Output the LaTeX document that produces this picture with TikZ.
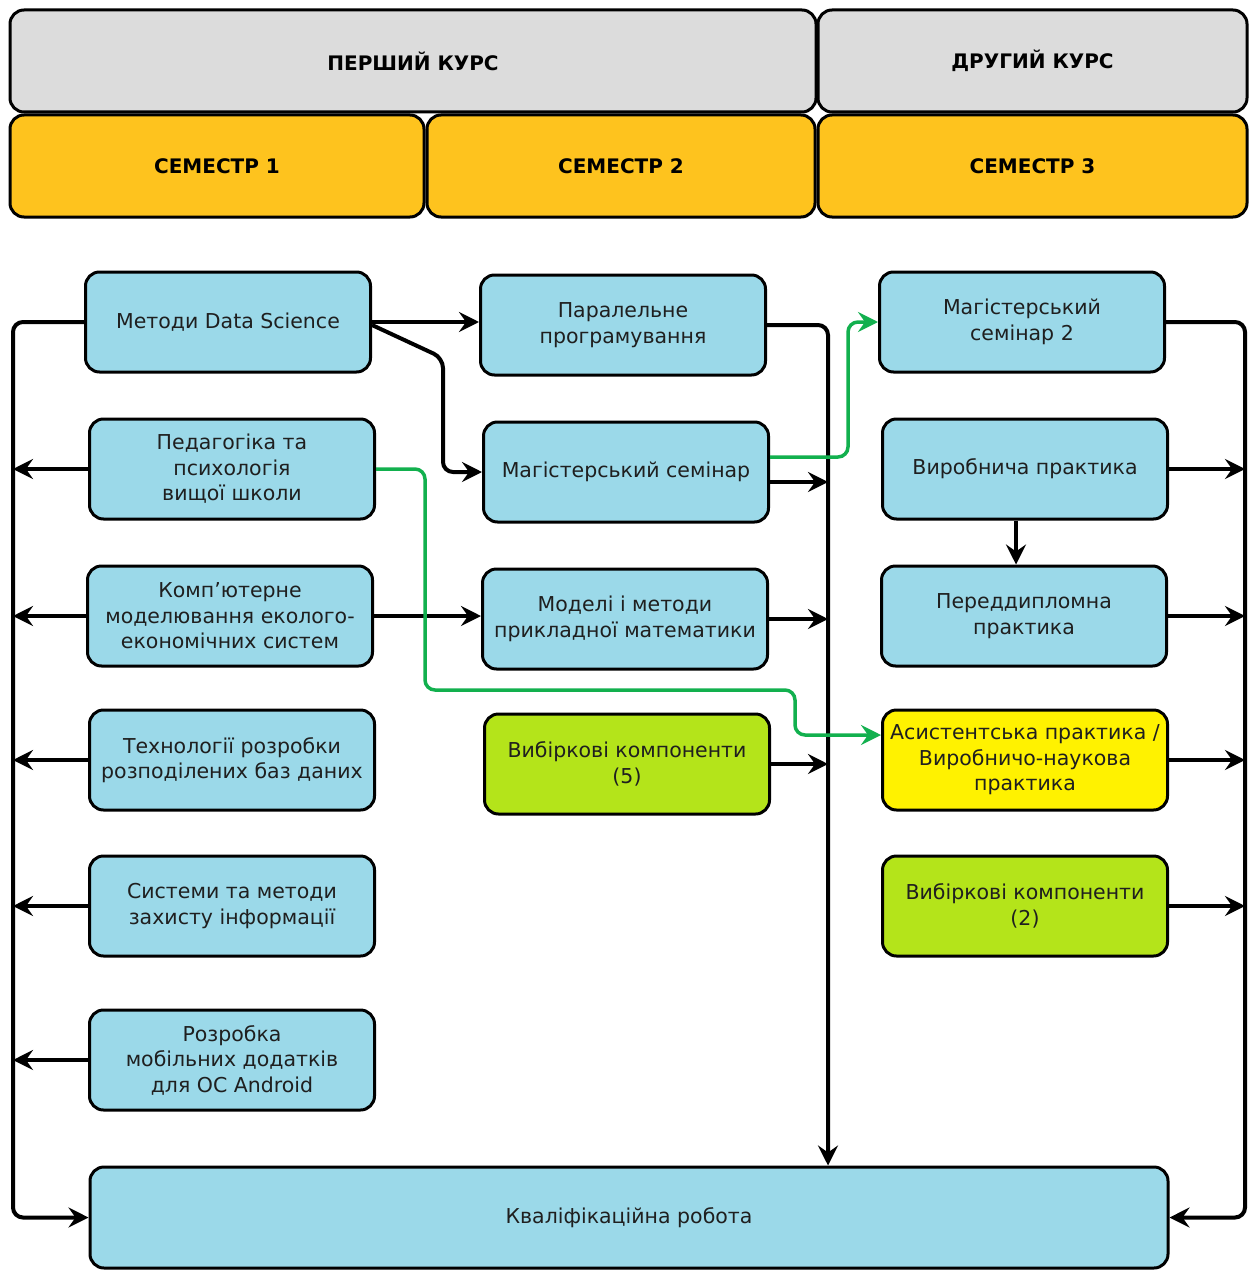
\documentclass[tikz,border=0pt]{standalone}
\usepackage{fontspec}
\setmainfont{DejaVu Sans}
\usetikzlibrary{arrows.meta}
\definecolor{cbox}{HTML}{9BD9E9}
\definecolor{chead}{HTML}{DCDCDC}
\definecolor{csem}{HTML}{FEC31E}
\definecolor{clime}{HTML}{B4E41A}
\definecolor{cyel}{HTML}{FFF200}
\definecolor{cgreen}{HTML}{12B04E}

\begin{document}
\begin{tikzpicture}[x=1pt,y=-1pt,
  box/.style={draw,line width=3pt,rounded corners=14pt,fill=cbox,
    minimum width=285pt,minimum height=100pt,align=center,inner sep=4pt,
    font=\fontsize{20.5}{25.5}\selectfont,text=black!88},
  head/.style={draw,line width=3pt,rounded corners=14pt,minimum height=102pt,
    font=\bfseries\fontsize{20}{24}\selectfont},
  conn/.style={line width=4pt,rounded corners=10pt,
    -{Stealth[length=20pt,width=20pt,inset=7pt]}},
  link/.style={conn,line width=3.5pt,color=cgreen}]
  \useasboundingbox (0,0) rectangle (1249,1271);

  % header
  \node[head,fill=chead,minimum width=806pt] (kurs1) at (413,61) {ПЕРШИЙ КУРС};
  \node[head,fill=chead,minimum width=429pt] (kurs2) at (1032.5,61) {ДРУГИЙ КУРС};
  \node[head,fill=csem,minimum width=414pt] (sem1) at (217,166) {СЕМЕСТР 1};
  \node[head,fill=csem,minimum width=388pt] (sem2) at (621,166) {СЕМЕСТР 2};
  \node[head,fill=csem,minimum width=429pt] (sem3) at (1032.5,166) {СЕМЕСТР 3};

  % semester 1
  \node[box] (ds) at (228,322) {Методи Data Science};
  \node[box] (ped) at (232,469) {Педагогіка та\\психологія\\вищої школи};
  \node[box] (komp) at (230,616) {Комп’ютерне\\моделювання еколого-\\економічних систем};
  \node[box] (tech) at (232,760) {Технології розробки\\розподілених баз даних};
  \node[box] (sys) at (232,906) {Системи та методи\\захисту інформації};
  \node[box] (mob) at (232,1060) {Розробка\\мобільних додатків\\для ОС Android};

  % semester 2
  \node[box] (par) at (623,325) {Паралельне\\програмування};
  \node[box] (mag) at (626,472) {Магістерський семінар};
  \node[box] (mod) at (625,619) {Моделі і методи\\прикладної математики};
  \node[box,fill=clime] (vyb5) at (627,764) {Вибіркові компоненти\\(5)};

  % semester 3
  \node[box] (mag2) at (1022,322) {Магістерський\\семінар 2};
  \node[box] (vyr) at (1025,469) {Виробнича практика};
  \node[box] (pered) at (1024,616) {Переддипломна\\практика};
  \node[box,fill=cyel] (asys) at (1025,760) {Асистентська практика /\\Виробничо-наукова\\практика};
  \node[box,fill=clime] (vyb2) at (1025,906) {Вибіркові компоненти\\(2)};

  \node[box,minimum width=1078pt,minimum height=101pt] (kval) at (629,1217.5) {Кваліфікаційна робота};

  % buses
  \coordinate (busL) at (13,0);
  \coordinate (busM) at (828,0);
  \coordinate (busR) at (1245,0);
  \coordinate (d1) at (443,358);
  \coordinate (g1) at (425,690);
  \coordinate (g2) at (795,690);

  \draw[conn] (ds.west) -| (kval.west -| busL) -- (kval.west);
  \foreach \n in {ped,komp,tech,sys,mob}
    \draw[conn] (\n.west) -- (\n.west -| busL);
  \draw[conn] (ds.east) -- (ds.east -| par.west);
  \draw[conn] ([yshift=-3pt]ds.east) -- (d1) |- (mag.west);
  \draw[conn] (komp.east) -- (komp.east -| mod.west);

  \draw[conn] (par.east) -| (kval.north -| busM);
  \draw[conn] ([yshift=-10pt]mag.east) -- ([yshift=-10pt]mag.east -| busM);
  \draw[conn] (mod.east) -- (mod.east -| busM);
  \draw[conn] (vyb5.east) -- (vyb5.east -| busM);

  \draw[conn] (mag2.east) -| (kval.east -| busR) -- (kval.east);
  \foreach \n in {vyr,pered,asys,vyb2}
    \draw[conn] (\n.east) -- (\n.east -| busR);
  \draw[conn] ([xshift=-9pt]vyr.south) -- ([xshift=-9pt]vyr.south |- pered.north);

  % green links
  \draw[link] ([yshift=15pt]mag.east) -| ([xshift=-30pt]mag2.west) -- (mag2.west);
  \draw[link] (ped.east) -| (g1) -- (g2) |- ([yshift=25pt]asys.west);
\end{tikzpicture}
\end{document}
